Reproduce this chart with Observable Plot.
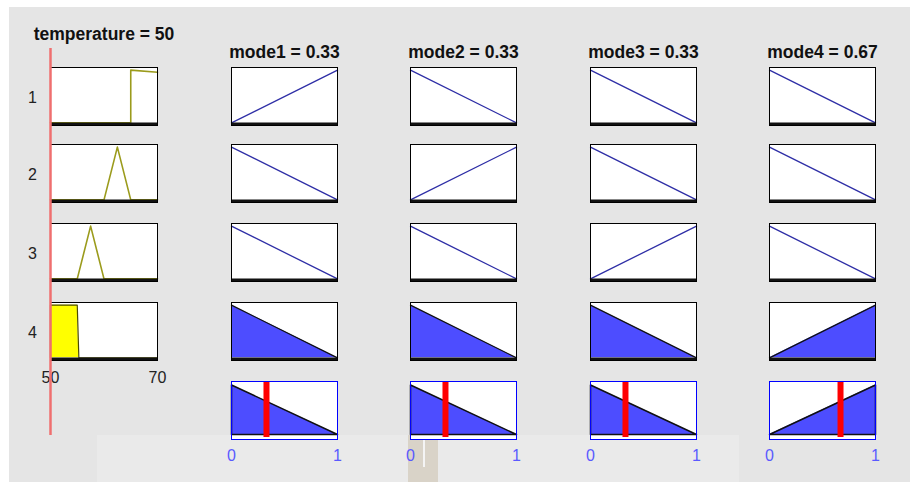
<!DOCTYPE html>
<html><head><meta charset="utf-8">
<script src="https://cdn.jsdelivr.net/npm/d3@7"></script>
<script src="https://cdn.jsdelivr.net/npm/@observablehq/plot@0.6"></script>
<style>
html,body{margin:0;padding:0;background:#fff;}
#root{position:relative;width:910px;height:482px;overflow:hidden;font-family:"Liberation Sans",Arial,sans-serif;}
.bg{position:absolute;}
</style></head><body><div id="root"></div>
<script>
// ---------- data ----------
const inputName = "temperature";
const inputValue = 50;
const inputDomain = [50, 70];
const inputTicks = [50, 70];
const ruleLabels = ["1", "2", "3", "4"];
const tempMFx = [[50, 65, 65, 70], [50, 60, 62.5, 65, 70], [50, 55, 57.5, 60, 70], [50, 50, 55, 55.3, 70]];
const tempMFy = [[0, 0, 1, 0.96], [0, 0, 1, 0, 0], [0, 0, 1, 0, 0], [0, 1, 1, 0, 0]];
const ruleStrength = [0, 0, 0, 1];
const outputNames = ["mode1", "mode2", "mode3", "mode4"];
const outputValues = [0.33, 0.33, 0.33, 0.67];
const outputDomain = [0, 1];
const outputTicks = [0, 1];
const ruleOutputMF = [
  ["up", "down", "down", "down"],
  ["down", "up", "down", "down"],
  ["down", "down", "up", "down"],
  ["down", "down", "down", "up"]
];
const mfX = [0, 1];
const mfUpY = [0, 1];
const mfDownY = [1, 0];

// ---------- layout ----------
const root = document.getElementById("root");
function bg(left, top, w, h, color) {
  const d = document.createElement("div");
  d.className = "bg";
  Object.assign(d.style, {left: left + "px", top: top + "px", width: w + "px", height: h + "px", background: color});
  root.appendChild(d);
}
bg(9, 7, 901, 475, "#e5e5e5");
bg(97, 435, 642, 47, "#eaeaea");
bg(408, 435, 30, 47, "#d9d3c8");
bg(423, 437, 2, 30, "#f4f4f4");

const inLeft = 50, inW = 107;
const outLefts = [231, 410, 590, 769], outW = 106;
const rowTops = [67, 144, 223, 302], rowH = 58;
const aggTop = 381, aggH = 58;
const FONT = "Liberation Sans, Arial, sans-serif";

function panel({left, top, w, h, mL = 40, mR = 12, mT = 40, mB = 30, x, y, marks, color = "#222"}) {
  const p = Plot.plot({
    width: w + mL + mR, height: h + mT + mB,
    marginLeft: mL, marginRight: mR, marginTop: mT, marginBottom: mB,
    x, y, marks,
    style: {background: "transparent", overflow: "visible", fontFamily: FONT, fontSize: "16px", color}
  });
  p.style.position = "absolute";
  p.style.left = (left - mL) + "px";
  p.style.top = (top - mT) + "px";
  p.style.maxWidth = "none";
  root.appendChild(p);
}

const ruleYDomain = [-0.05, 1.05];
const bottomBand = () => Plot.ruleY([0], {stroke: "#111", strokeWidth: 3, dy: 1.2});

// input column
ruleLabels.forEach((lab, i) => {
  const pts = tempMFx[i].map((xv, k) => ({x: xv, y: tempMFy[i][k]}));
  const fired = ruleStrength[i] > 0;
  const marks = [Plot.frame({fill: "white"})];
  if (fired) {
    marks.push(Plot.areaY(pts, {x: "x", y: "y", fill: "#ffff00"}));
    marks.push(Plot.line(pts, {x: "x", y: "y", stroke: "#4a4a00", strokeWidth: 1.2}));
  } else {
    marks.push(Plot.line(pts, {x: "x", y: "y", stroke: "#9b9b1c", strokeWidth: 1.6}));
  }
  marks.push(bottomBand());
  marks.push(Plot.frame({stroke: "black"}));
  marks.push(Plot.text([lab], {text: d => d, frameAnchor: "left", textAnchor: "middle", lineAnchor: "middle", dx: -18, dy: 1, fontSize: 16, fill: "#222"}));
  if (i === 0) {
    marks.push(Plot.text([`${inputName} = ${inputValue}`], {text: d => d, frameAnchor: "top", textAnchor: "middle", lineAnchor: "middle", dy: -33, fontSize: 17.5, fontWeight: "bold", fill: "#111"}));
  }
  panel({
    left: inLeft, top: rowTops[i], w: inW, h: rowH,
    x: {domain: inputDomain, axis: i === 3 ? "bottom" : null, ticks: inputTicks, tickFormat: d => String(d), tickSize: 0, tickPadding: 11, label: null},
    y: {domain: ruleYDomain, axis: null},
    marks, color: "#222"
  });
});

// output columns
outputNames.forEach((name, j) => {
  ruleLabels.forEach((lab, i) => {
    const ys = ruleOutputMF[i][j] === "up" ? mfUpY : mfDownY;
    const s = ruleStrength[i];
    const pts = mfX.map((xv, k) => ({x: xv, y: ys[k] * (s > 0 ? s : 1)}));
    const marks = [Plot.frame({fill: "white"})];
    if (s > 0) {
      marks.push(Plot.areaY(pts, {x: "x", y: "y", fill: "#4d4dff"}));
      marks.push(Plot.line(pts, {x: "x", y: "y", stroke: "#111", strokeWidth: 1.2}));
    } else {
      marks.push(Plot.line(pts, {x: "x", y: "y", stroke: "#2e2ea6", strokeWidth: 1.3}));
    }
    marks.push(bottomBand());
    marks.push(Plot.frame({stroke: "black"}));
    if (i === 0) {
      marks.push(Plot.text([`${name} = ${outputValues[j]}`], {text: d => d, frameAnchor: "top", textAnchor: "middle", lineAnchor: "middle", dy: -15, fontSize: 17.5, fontWeight: "bold", fill: "#111"}));
    }
    panel({
      left: outLefts[j], top: rowTops[i], w: outW, h: rowH,
      x: {domain: outputDomain, axis: null},
      y: {domain: ruleYDomain, axis: null},
      marks
    });
  });

  // aggregated output
  const agg = mfX.map((xv, k) => ({
    x: xv,
    y: d3.max(ruleStrength.map((s, i) => s * (ruleOutputMF[i][j] === "up" ? mfUpY : mfDownY)[k]))
  }));
  const outline = [{x: agg[0].x, y: 0}, ...agg, {x: agg[agg.length - 1].x, y: 0}, {x: agg[0].x, y: 0}];
  panel({
    left: outLefts[j], top: aggTop, w: outW, h: aggH,
    x: {domain: outputDomain, axis: "bottom", ticks: outputTicks, tickFormat: d => String(d), tickSize: 0, tickPadding: 10, label: null},
    y: {domain: [-0.1, 1.07], axis: null},
    color: "#5a5aff",
    marks: [
      Plot.frame({fill: "white"}),
      Plot.areaY(agg, {x: "x", y: "y", fill: "#4d4dff"}),
      Plot.line(outline, {x: "x", y: "y", stroke: "#111", strokeWidth: 1.5}),
      Plot.ruleX([outputValues[j]], {stroke: "#ff0000", strokeWidth: 6, insetTop: 1, insetBottom: 2}),
      Plot.frame({stroke: "#0000ff"})
    ]
  });
});

// input value marker line across the input column
panel({
  left: inLeft, top: 48, w: inW, h: 387, mT: 5, mB: 5,
  x: {domain: inputDomain, axis: null},
  y: {domain: [0, 1], axis: null},
  marks: [Plot.ruleX([inputValue], {stroke: "#ef6f6f", strokeWidth: 2.5})]
});
</script>
</body></html>
